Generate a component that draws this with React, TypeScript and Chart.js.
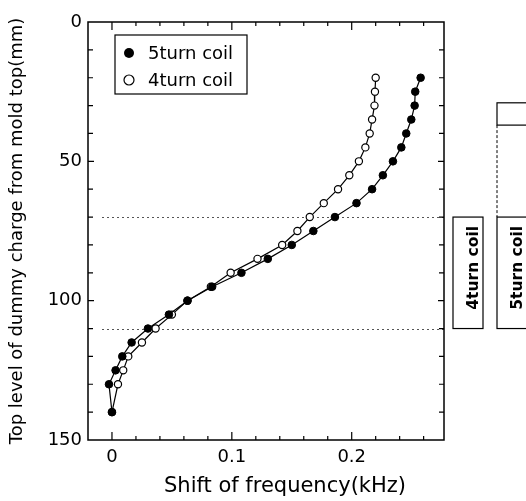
import { useEffect, useRef } from "react";
import { Chart, registerables } from "chart.js";

Chart.register(...registerables);

// ---- data ----
const depthLevels = [20, 25, 30, 35, 40, 45, 50, 55, 60, 65, 70, 75, 80, 85, 90, 95, 100, 105, 110, 115, 120, 125, 130, 140];
const shift5turn = [0.2575, 0.253, 0.2525, 0.2497, 0.2455, 0.2414, 0.2344, 0.226, 0.217, 0.204, 0.186, 0.168, 0.15, 0.13, 0.108, 0.0836, 0.063, 0.0475, 0.03, 0.0164, 0.0086, 0.003, -0.0025, 0];
const shift4turn = [0.22, 0.2194, 0.219, 0.217, 0.215, 0.2114, 0.206, 0.198, 0.1886, 0.1767, 0.165, 0.1547, 0.142, 0.1214, 0.099, 0.0825, 0.063, 0.05, 0.0364, 0.025, 0.0136, 0.0094, 0.005, 0];

const xTickValues = [0, 0.1, 0.2];
const yTickValues = [0, 50, 100, 150];
const xMinorTicks = [0, 0.02, 0.04, 0.06, 0.08, 0.1, 0.12, 0.14, 0.16, 0.18, 0.2, 0.22, 0.24, 0.26];
const yMinorTicks = [10, 20, 30, 40, 50, 60, 70, 80, 90, 100, 110, 120, 130, 140];
const referenceLevels = [70, 110];

const coil4Zone = [70, 110];
const coil5Zone = [70, 110];
const coil5Dashed = [37, 70];
const coil5TopBox = [29, 37];

const seriesLabels = ["5turn coil", "4turn coil"];
const xTitle = "Shift of frequency(kHz)";
const yTitle = "Top level of dummy charge from mold top(mm)";

const FONT = "'DejaVu Sans', sans-serif";

const overlay = {
  id: "overlay",
  beforeDatasetsDraw(chart: any) {
    const { ctx, chartArea, scales } = chart;
    ctx.save();
    ctx.strokeStyle = "#555";
    ctx.lineWidth = 1;
    ctx.setLineDash([2, 3]);
    for (const lv of referenceLevels) {
      const y = Math.round(scales.y.getPixelForValue(lv)) + 0.5;
      ctx.beginPath();
      ctx.moveTo(chartArea.left + 14, y);
      ctx.lineTo(chartArea.right + 2, y);
      ctx.stroke();
    }
    ctx.restore();
  },
  afterDraw(chart: any) {
    const { ctx, chartArea, scales } = chart;
    const { left, right, top, bottom } = chartArea;
    const xs = scales.x;
    const ys = scales.y;
    ctx.save();
    ctx.strokeStyle = "#000";
    ctx.setLineDash([]);
    // frame
    ctx.lineWidth = 1.5;
    ctx.strokeRect(left, top, right - left, bottom - top);
    // ticks (inward)
    ctx.lineWidth = 1.2;
    ctx.beginPath();
    for (const v of xMinorTicks) {
      const x = xs.getPixelForValue(v);
      const len = xTickValues.includes(v) ? 8 : 4;
      ctx.moveTo(x, bottom);
      ctx.lineTo(x, bottom - len);
      ctx.moveTo(x, top);
      ctx.lineTo(x, top + len);
    }
    for (const v of yMinorTicks) {
      const y = ys.getPixelForValue(v);
      const len = yTickValues.includes(v) ? 6 : 5;
      ctx.moveTo(left, y);
      ctx.lineTo(left + len, y);
      ctx.moveTo(right, y);
      ctx.lineTo(right - len, y);
    }
    ctx.stroke();

    // x axis title (offset to the right as in the original)
    ctx.fillStyle = "#000";
    ctx.font = `21px ${FONT}`;
    ctx.textAlign = "center";
    ctx.textBaseline = "middle";
    ctx.fillText(xTitle, (left + right) / 2 + 19, bottom + 47);

    // legend
    const lx = left + 27;
    const ly = top + 13;
    ctx.lineWidth = 1.2;
    ctx.strokeRect(lx, ly, 132, 59);
    const rows = [ly + 18, ly + 45];
    ctx.font = `18px ${FONT}`;
    ctx.textBaseline = "middle";
    ctx.textAlign = "left";
    rows.forEach((ry, i) => {
      ctx.beginPath();
      ctx.arc(lx + 14, ry, 5, 0, Math.PI * 2);
      if (i === 0) {
        ctx.fillStyle = "#000";
        ctx.fill();
      } else {
        ctx.fillStyle = "#fff";
        ctx.fill();
        ctx.lineWidth = 1.2;
        ctx.stroke();
      }
      ctx.fillStyle = "#000";
      ctx.fillText(seriesLabels[i], lx + 33, ry + 1);
    });

    // coil zone boxes on the right
    ctx.lineWidth = 1.2;
    const b4x = right + 9;
    const b4t = ys.getPixelForValue(coil4Zone[0]);
    const b4b = ys.getPixelForValue(coil4Zone[1]);
    ctx.strokeRect(b4x, b4t, 30, b4b - b4t);

    const b5x = right + 53;
    const b5t = ys.getPixelForValue(coil5Zone[0]);
    const b5b = ys.getPixelForValue(coil5Zone[1]);
    ctx.strokeRect(b5x, b5t, 30, b5b - b5t);
    const tt = ys.getPixelForValue(coil5TopBox[0]);
    const tb = ys.getPixelForValue(coil5TopBox[1]);
    ctx.strokeRect(b5x, tt, 30, tb - tt);
    ctx.save();
    ctx.setLineDash([3, 2]);
    ctx.lineWidth = 1;
    ctx.beginPath();
    ctx.moveTo(b5x, ys.getPixelForValue(coil5Dashed[0]));
    ctx.lineTo(b5x, ys.getPixelForValue(coil5Dashed[1]));
    ctx.stroke();
    ctx.restore();

    ctx.font = `bold 15.5px ${FONT}`;
    ctx.textAlign = "center";
    ctx.textBaseline = "alphabetic";
    const drawRot = (text: string, bx: number, cy: number) => {
      ctx.save();
      ctx.translate(bx, cy);
      ctx.rotate(-Math.PI / 2);
      ctx.fillText(text, 0, 0);
      ctx.restore();
    };
    drawRot("4turn coil", b4x + 24.5, (b4t + b4b) / 2 - 5);
    drawRot("5turn coil", b5x + 24.5, (b5t + b5b) / 2 - 5);

    ctx.restore();
  },
};

export default function App() {
  const ref = useRef<HTMLCanvasElement>(null);
  useEffect(() => {
    const canvas = ref.current!;
    const chart = new Chart(canvas, {
      type: "scatter",
      data: {
        datasets: [
          {
            label: seriesLabels[0],
            data: depthLevels.map((d, i) => ({ x: shift5turn[i], y: d })),
            showLine: true,
            borderColor: "#000",
            borderWidth: 1.2,
            backgroundColor: "#000",
            pointBackgroundColor: "#000",
            pointBorderColor: "#000",
            pointBorderWidth: 1,
            pointRadius: 3.8,
          },
          {
            label: seriesLabels[1],
            data: depthLevels.map((d, i) => ({ x: shift4turn[i], y: d })),
            showLine: true,
            borderColor: "#000",
            borderWidth: 1.2,
            backgroundColor: "#fff",
            pointBackgroundColor: "#fff",
            pointBorderColor: "#000",
            pointBorderWidth: 1.2,
            pointRadius: 3.6,
          },
        ],
      },
      options: {
        responsive: false,
        animation: false,
        layout: { padding: { top: 22, right: 82, left: 0, bottom: 0 } },
        plugins: { legend: { display: false }, tooltip: { enabled: false } },
        scales: {
          x: {
            type: "linear",
            min: -0.02,
            max: 0.277,
            grid: { display: false, drawTicks: false },
            border: { display: false },
            afterBuildTicks: (s: any) => {
              s.ticks = xTickValues.map((v) => ({ value: v }));
            },
            afterFit: (s: any) => {
              s.height = 61;
            },
            ticks: {
              font: { family: FONT, size: 18 },
              color: "#000",
              padding: 7,
              callback: (v: any) => String(v),
            },
            title: { display: false },
          },
          y: {
            type: "linear",
            reverse: true,
            min: 0,
            max: 150,
            grid: { display: false, drawTicks: false },
            border: { display: false },
            afterBuildTicks: (s: any) => {
              s.ticks = yTickValues.map((v) => ({ value: v }));
            },
            afterFit: (s: any) => {
              s.width = 88;
            },
            ticks: {
              font: { family: FONT, size: 18 },
              color: "#000",
              padding: 6,
              callback: (v: any) => String(v),
            },
            title: {
              display: true,
              text: yTitle,
              font: { family: FONT, size: 18 },
              color: "#000",
              padding: { top: 7, bottom: 0 },
            },
          },
        },
      },
      plugins: [overlay],
    });
    return () => chart.destroy();
  }, []);
  return (
    <div style={{ position: "absolute", left: 0, top: 0, width: 526, height: 501, background: "#fff" }}>
      <canvas ref={ref} width={526} height={501} style={{ display: "block" }} />
    </div>
  );
}
